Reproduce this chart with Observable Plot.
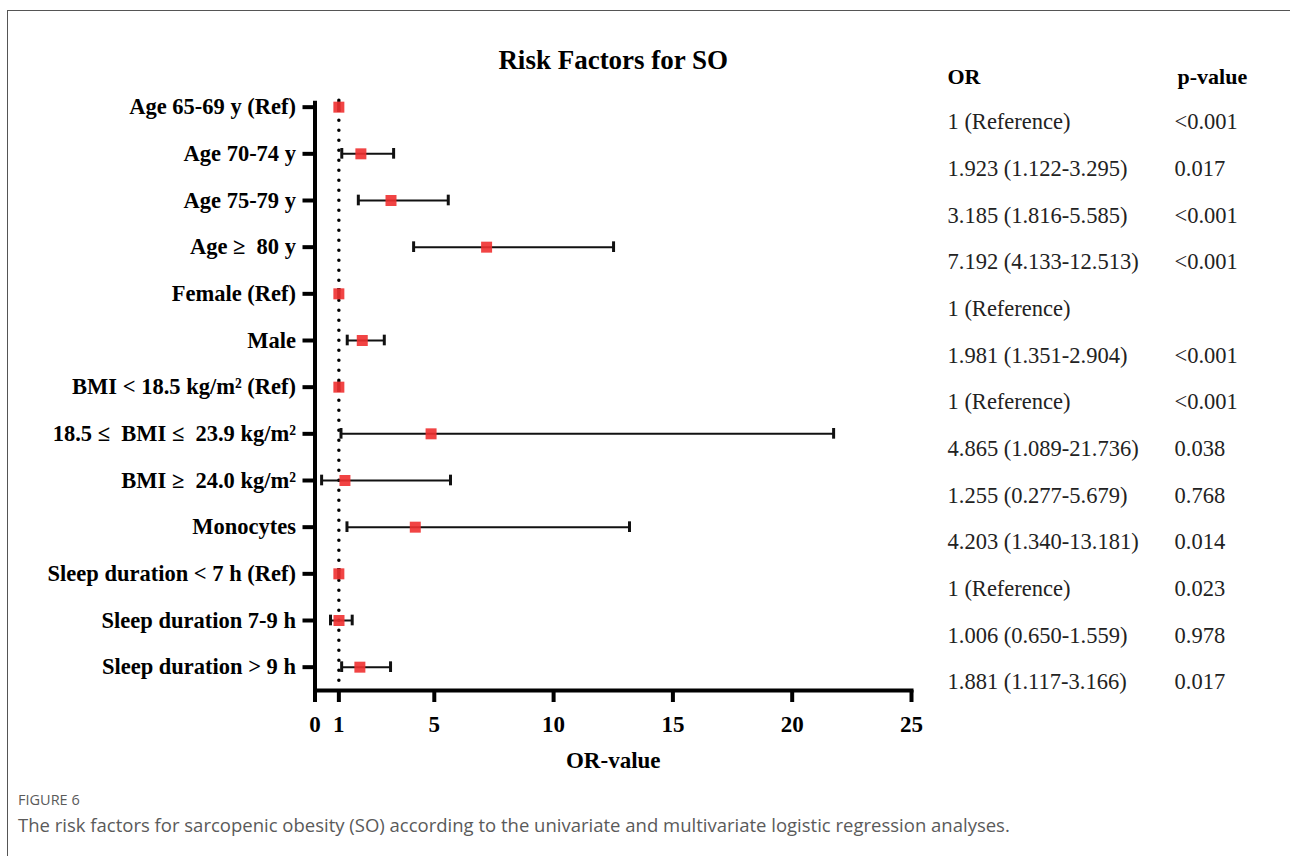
<!DOCTYPE html>
<html><head><meta charset="utf-8">
<script src="https://cdn.jsdelivr.net/npm/d3@7"></script>
<script src="https://cdn.jsdelivr.net/npm/@observablehq/plot@0.6"></script>
<style>
body{margin:0;background:#fff;width:1290px;height:856px;overflow:hidden;position:relative}
#frame{position:absolute;left:7px;top:10px;width:1400px;height:1000px;border-top:1.5px solid #555;border-left:1.5px solid #555}
#chart{position:absolute;left:0;top:0}
#cap{position:absolute;left:18px;top:790px;font-family:"Open Sans",sans-serif;color:#5a5a5a}
#cap .fig{font-size:14.5px;line-height:20px;text-transform:uppercase}
#cap .desc{font-size:18.5px;line-height:24px;margin-top:3px}
</style></head>
<body>
<div id="frame"></div>
<div id="chart"></div>
<div id="cap"><div class="fig">FIGURE 6</div><div class="desc">The risk factors for sarcopenic obesity (SO) according to the univariate and multivariate logistic regression analyses.</div></div>
<script>
const chartTitle = "Risk Factors for SO";
const xLabel = "OR-value";
const labels = [
  "Age 65-69 y (Ref)",
  "Age 70-74 y",
  "Age 75-79 y",
  "Age \u2265\u00a0 80 y",
  "Female (Ref)",
  "Male",
  "BMI < 18.5 kg/m\u00b2 (Ref)",
  "18.5 \u2264\u00a0 BMI \u2264\u00a0 23.9 kg/m\u00b2",
  "BMI \u2265\u00a0 24.0 kg/m\u00b2",
  "Monocytes",
  "Sleep duration < 7 h (Ref)",
  "Sleep duration 7-9 h",
  "Sleep duration > 9 h"
];
const orValues = [1, 1.923, 3.185, 7.192, 1, 1.981, 1, 4.865, 1.255, 4.203, 1, 1.006, 1.881];
const lowerCI  = [1, 1.122, 1.816, 4.133, 1, 1.351, 1, 1.089, 0.277, 1.340, 1, 0.650, 1.117];
const upperCI  = [1, 3.295, 5.585, 12.513, 1, 2.904, 1, 21.736, 5.679, 13.181, 1, 1.559, 3.166];
const orText = [
  "1 (Reference)", "1.923 (1.122-3.295)", "3.185 (1.816-5.585)", "7.192 (4.133-12.513)",
  "1 (Reference)", "1.981 (1.351-2.904)", "1 (Reference)", "4.865 (1.089-21.736)",
  "1.255 (0.277-5.679)", "4.203 (1.340-13.181)", "1 (Reference)", "1.006 (0.650-1.559)",
  "1.881 (1.117-3.166)"
];
const pValues = ["<0.001", "0.017", "<0.001", "<0.001", "", "<0.001", "<0.001", "0.038", "0.768", "0.014", "0.023", "0.978", "0.017"];
const tableHeaders = ["OR", "p-value"];
const xTicks = [0, 1, 5, 10, 15, 20, 25];
const xDomain = [0, 25];
const refValue = 1;

const rows = labels.map((label, i) => ({label, or: orValues[i], lo: lowerCI[i], hi: upperCI[i], orText: orText[i], p: pValues[i]}));

const serif = "'Liberation Serif', 'Times New Roman', serif";
const plot = Plot.plot({
  width: 1290,
  height: 790,
  marginLeft: 314.5,
  marginRight: 379,
  marginTop: 83.33,
  marginBottom: 100,
  style: {fontFamily: serif, fontSize: "22.5px", fontWeight: "bold", color: "#000", background: "transparent", overflow: "visible"},
  x: {domain: xDomain, ticks: xTicks},
  y: {type: "band", domain: labels, padding: 0, round: false},
  marks: [
    Plot.ruleX([refValue], {strokeDasharray: "0 10", strokeLinecap: "round", strokeWidth: 3.5, insetTop: 17, insetBottom: 8, stroke: "#000"}),
    Plot.frame({anchor: "bottom", strokeWidth: 4, stroke: "#000"}),
    Plot.frame({anchor: "left", strokeWidth: 4, stroke: "#000", insetTop: 19}),
    Plot.axisX({ticks: xTicks, tickSize: 12, tickPadding: 13, strokeWidth: 4, label: null, fontSize: 23, fontWeight: "bold"}),
    Plot.axisY({tickSize: 12, tickPadding: 7, strokeWidth: 4, label: null, fontSize: 22.5, fontWeight: "bold"}),
    Plot.ruleY(rows, {y: "label", x1: "lo", x2: "hi", strokeWidth: 2, stroke: "#111"}),
    Plot.tickX(rows, {x: "lo", y: "label", strokeWidth: 3, insetTop: 18, insetBottom: 18, stroke: "#111"}),
    Plot.tickX(rows, {x: "hi", y: "label", strokeWidth: 3, insetTop: 18, insetBottom: 18, stroke: "#111"}),
    Plot.dot(rows, {x: "or", y: "label", symbol: "square", r: 6.2, fill: "#f03030", fillOpacity: 0.9, stroke: "none"}),
    Plot.text([chartTitle], {frameAnchor: "top", dy: -23, fontSize: 27, fontWeight: "bold", lineAnchor: "middle", fill: "#000"}),
    Plot.text([xLabel], {frameAnchor: "bottom", dy: 70, fontSize: 23, fontWeight: "bold", lineAnchor: "middle", fill: "#000"}),
    Plot.text([tableHeaders[0]], {frameAnchor: "top-right", dx: 36, dy: -7, textAnchor: "start", lineAnchor: "middle", fontSize: 22, fontWeight: "bold", fill: "#000"}),
    Plot.text([tableHeaders[1]], {frameAnchor: "top-right", dx: 266, dy: -7, textAnchor: "start", lineAnchor: "middle", fontSize: 22, fontWeight: "bold", fill: "#000"}),
    Plot.text(rows, {y: "label", text: "orText", frameAnchor: "right", dx: 36, dy: 15, textAnchor: "start", lineAnchor: "middle", fontSize: 22.5, fontWeight: "normal", fill: "#222"}),
    Plot.text(rows, {y: "label", text: "p", frameAnchor: "right", dx: 263, dy: 15, textAnchor: "start", lineAnchor: "middle", fontSize: 22.5, fontWeight: "normal", fill: "#222"})
  ]
});
document.getElementById("chart").appendChild(plot);
</script>
</body></html>
